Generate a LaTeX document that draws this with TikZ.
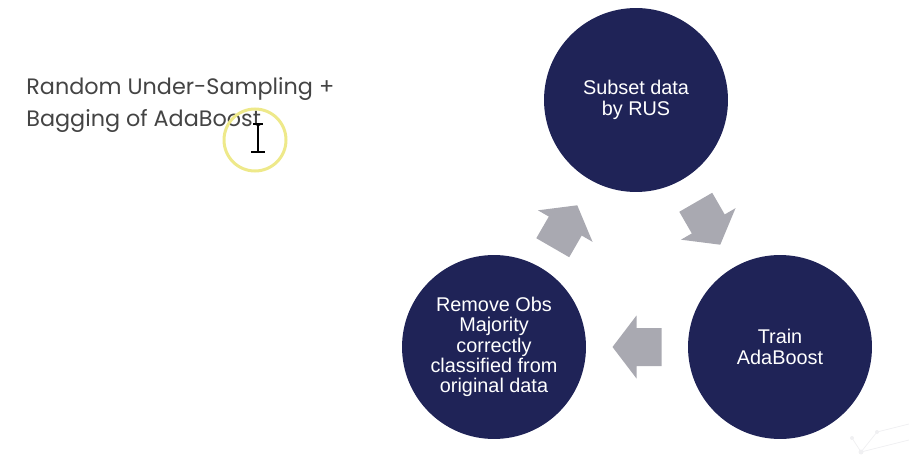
\documentclass[tikz,border=0pt]{standalone}
\usepackage{fontspec}
\setmainfont{Liberation Sans}
\newfontfamily\titlefont{Poppins}
\usetikzlibrary{calc}

\definecolor{navy}{HTML}{1F2357}
\definecolor{arrowgrey}{HTML}{A9A9B1}
\definecolor{titlegrey}{HTML}{444444}
\definecolor{cursoryellow}{HTML}{EEE98A}
\definecolor{netgrey}{HTML}{F0F0F2}

% block arrow between two circles: centre, angle
\newcommand{\cyclearrow}[2]{%
  \fill[arrowgrey, shift={#1}, rotate=#2]
    (-24.5,-19) -- (0.5,-19) -- (0.5,-31.5) -- (24.5,0)
    -- (0.5,31.5) -- (0.5,19) -- (-24.5,19) -- cycle;}

\tikzset{
  cyclecircle/.style={circle, fill=navy, text=white, minimum size=3.68cm,
    inner sep=0pt, align=center, font=\fontsize{11.3}{11.6}\selectfont},
  titletext/.style={anchor=base west, inner sep=0pt, text=titlegrey,
    font=\titlefont\fontsize{12.7}{12.7}\selectfont}
}

\begin{document}
\begin{tikzpicture}[x=0.02cm, y=-0.02cm]
    \useasboundingbox (0,0) rectangle (909,459);

    \node[titletext] (title1) at (26,95) {Random Under-Sampling +};
    \node[titletext] (title2) at (26,127) {Bagging of AdaBoost};

    \node[cyclecircle] (rus) at (636,100) {Subset data\\by RUS};
    \node[cyclecircle] (train) at (780,347) {Train\\AdaBoost};
    \node[cyclecircle] (remove) at (494,347)
      {Remove Obs\\Majority\\correctly\\classified from\\original data};

    \cyclearrow{($(rus)!0.5!(train)$)}{-60}
    \cyclearrow{($(train)!0.5!(remove)$)}{180}
    \cyclearrow{($(remove)!0.5!(rus)+(0,3)$)}{60}

    % cursor
    \draw[cursoryellow, line width=0.06cm] (255,140) circle (31);
    \draw[black, line width=0.03cm] (258,124) -- (258,152);
    \draw[black, line width=0.03cm] (251,152) -- (265,152);
    \draw[black, line width=0.03cm] (253,124) -- (263,124);

    % faint network in the corner
    \draw[netgrey, line width=0.015cm] (852,438) -- (861,452) -- (877,432) -- (909,424);
    \draw[netgrey, line width=0.015cm] (861,452) -- (909,440);
    \fill[netgrey] (852,438) circle (2) (861,452) circle (2.5) (877,432) circle (2);
\end{tikzpicture}
\end{document}
